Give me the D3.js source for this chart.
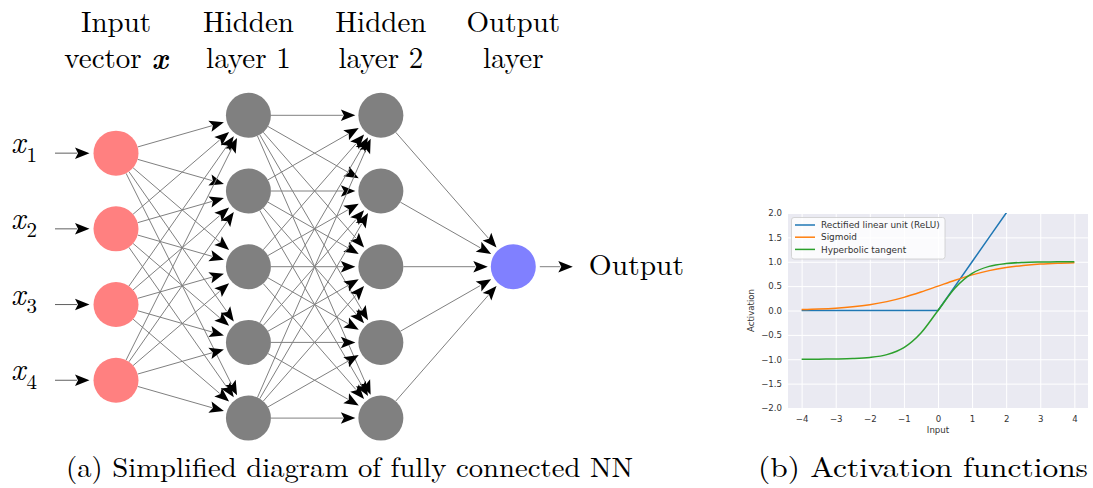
<!DOCTYPE html>
<html>
<head>
<meta charset="utf-8">
<script src="https://cdn.jsdelivr.net/npm/d3@7"></script>
<style>
  html, body { margin: 0; padding: 0; background: #fff; }
  svg { display: block; }
</style>
</head>
<body>
<svg id="fig" width="1093" height="488"></svg>
<script>
// ---- network diagram data ----
const layerNames = ["input", "hidden1", "hidden2", "output"];
const layerSizes = [4, 5, 5, 1];
const layerTitles = [["Input", "vector"], ["Hidden", "layer 1"], ["Hidden", "layer 2"], ["Output", "layer"]];
const layerColors = ["#ff8080", "#808080", "#808080", "#8080ff"];
const inputLabels = ["1", "2", "3", "4"];
const outputLabel = "Output";
const captionA = "(a) Simplified diagram of fully connected NN";
const captionB = "(b) Activation functions";

// ---- activation curves data ----
const inputs     = [-4, -3.5, -3, -2.5, -2, -1.5, -1, -0.5, 0, 0.5, 1, 1.5, 2, 2.5, 3, 3.5, 4];
const reluVals   = [0, 0, 0, 0, 0, 0, 0, 0, 0, 0.5, 1, 1.5, 2, 2.5, 3, 3.5, 4];
const sigmoidVals= [0.018, 0.029, 0.047, 0.076, 0.119, 0.182, 0.269, 0.378, 0.5, 0.622, 0.731, 0.818, 0.881, 0.924, 0.953, 0.971, 0.982];
const tanhVals   = [-0.999, -0.998, -0.995, -0.987, -0.964, -0.905, -0.762, -0.462, 0, 0.462, 0.762, 0.905, 0.964, 0.987, 0.995, 0.998, 0.999];
const seriesNames = ["Rectified linear unit (ReLU)", "Sigmoid", "Hyperbolic tangent"];
const seriesColors = ["#1f77b4", "#ff7f0e", "#2ca02c"];
const xTicks = [-4, -3, -2, -1, 0, 1, 2, 3, 4];
const yTicks = [-2, -1.5, -1, -0.5, 0, 0.5, 1, 1.5, 2];

const svg = d3.select("#fig");
const SERIF = '"Latin Modern Roman", "Liberation Serif", "DejaVu Serif", serif';
const SANS = '"DejaVu Sans", sans-serif';

// ================= (a) network diagram =================
const net = svg.append("g");
const xLayer = d3.scalePoint().domain(layerNames).range([116, 513.3]);
const yNode = d3.scaleLinear().domain([-2, 2]).range([115.3, 418.1]);
const R = 22.5;

const nodes = layerNames.map((name, li) =>
  d3.range(layerSizes[li]).map(i => ({
    layer: li,
    x: xLayer(name),
    y: yNode(i - (layerSizes[li] - 1) / 2)
  }))
);

// arrow helper: gray shaft, black triangular head
const HEAD_L = 14.5, HEAD_W = 11.5;
function arrow(g, x1, y1, x2, y2, shaftColor) {
  const dx = x2 - x1, dy = y2 - y1, len = Math.hypot(dx, dy);
  const ux = dx / len, uy = dy / len;
  const bx = x2 - ux * HEAD_L, by = y2 - uy * HEAD_L;
  g.append("line")
    .attr("x1", x1).attr("y1", y1).attr("x2", bx + ux * 2).attr("y2", by + uy * 2)
    .attr("stroke", shaftColor).attr("stroke-width", 1);
  g.append("path")
    .attr("d", `M${x2},${y2}L${bx - uy * HEAD_W / 2},${by + ux * HEAD_W / 2}L${bx + ux * 3},${by + uy * 3}L${bx + uy * HEAD_W / 2},${by - ux * HEAD_W / 2}Z`)
    .attr("fill", "#000");
}

const edgeG = net.append("g");
for (let li = 0; li < nodes.length - 1; li++) {
  nodes[li].forEach(s => {
    nodes[li + 1].forEach(t => {
      const dx = t.x - s.x, dy = t.y - s.y, len = Math.hypot(dx, dy);
      const ux = dx / len, uy = dy / len;
      arrow(edgeG, s.x + ux * R, s.y + uy * R, t.x - ux * (R + 3), t.y - uy * (R + 3), "#808080");
    });
  });
}

// input arrows and output arrow
nodes[0].forEach(n => arrow(edgeG, 55, n.y, n.x - R - 4, n.y, "#606060"));
const outNode = nodes[3][0];
arrow(edgeG, outNode.x + R + 4, outNode.y, outNode.x + R + 37, outNode.y, "#808080");

// node circles
net.append("g").selectAll("g").data(nodes).join("g")
  .selectAll("circle").data(d => d).join("circle")
  .attr("cx", d => d.x).attr("cy", d => d.y).attr("r", R)
  .attr("fill", d => layerColors[d.layer]);

// input labels x_i
const xl = net.append("g").selectAll("text").data(nodes[0]).join("text")
  .style("font-family", SERIF)
  .attr("x", 11).attr("y", d => d.y)
  .attr("fill", "#000");
xl.append("tspan").style("font-style", "italic").style("font-size", "31px").text("x");
xl.append("tspan").style("font-size", "21px").attr("dx", 1).attr("dy", 8.4).text((d, i) => inputLabels[i]);

// output label
net.append("text").style("font-family", SERIF).style("font-size", "29.5px")
  .attr("x", outNode.x + R + 53).attr("y", outNode.y + 8.5)
  .attr("fill", "#000").text(outputLabel);

// layer titles, two lines each
layerNames.forEach((name, li) => {
  const cx = xLayer(name);
  const t = net.append("text").style("font-family", SERIF).style("font-size", "29px")
    .attr("text-anchor", "middle");
  t.append("tspan").attr("x", cx).attr("y", 31.5).text(layerTitles[li][0]);
  const l2 = t.append("tspan").attr("x", cx).attr("y", 68).text(layerTitles[li][1]);
  if (li === 0) {
    t.append("tspan").text(" ");
    t.append("tspan").style("font-weight", "bold").style("font-style", "italic").text("x");
  }
});

// captions
svg.append("text").style("font-family", SERIF).style("font-size", "28px")
  .attr("x", 66).attr("y", 477).text(captionA)
  .attr("textLength", 567).attr("lengthAdjust", "spacingAndGlyphs");
svg.append("text").style("font-family", SERIF).style("font-size", "28px")
  .attr("x", 758).attr("y", 477).text(captionB)
  .attr("textLength", 330).attr("lengthAdjust", "spacingAndGlyphs");

// ================= (b) activation functions =================
const plotL = 788, plotR = 1088, plotT = 213, plotB = 408;
const x = d3.scaleLinear().domain([-4.4, 4.4]).range([plotL, plotR]);
const y = d3.scaleLinear().domain([-2, 2]).range([plotB, plotT]);
const plot = svg.append("g");

plot.append("rect")
  .attr("x", plotL).attr("y", plotT).attr("width", plotR - plotL).attr("height", plotB - plotT)
  .attr("fill", "#eaeaf2");

const fmt = v => (v < 0 ? "\u2212" : "") + d3.format(".1f")(Math.abs(v));

// grid via axes with full-length ticks
const gx = plot.append("g").attr("transform", `translate(0,${plotB})`)
  .call(d3.axisBottom(x).tickValues(xTicks).tickSize(plotB - plotT).tickPadding(0)
    .tickFormat(v => (v < 0 ? "\u2212" : "") + Math.abs(v)));
gx.select(".domain").remove();
gx.selectAll(".tick line").attr("stroke", "#fff").attr("stroke-width", 1).attr("y2", -(plotB - plotT));
gx.selectAll(".tick text").style("font-family", SANS).style("font-size", "8.6px")
  .attr("y", 13.8).attr("dy", 0).attr("fill", "#333");

const gy = plot.append("g").attr("transform", `translate(${plotL},0)`)
  .call(d3.axisLeft(y).tickValues(yTicks).tickSize(0).tickPadding(6).tickFormat(fmt));
gy.select(".domain").remove();
gy.selectAll(".tick line").attr("stroke", "#fff").attr("stroke-width", 1).attr("x2", plotR - plotL);
gy.selectAll(".tick text").style("font-family", SANS).style("font-size", "8.6px").attr("fill", "#333");

plot.append("text").style("font-family", SANS).style("font-size", "8.6px")
  .attr("x", (plotL + plotR) / 2).attr("y", 433)
  .attr("text-anchor", "middle").attr("fill", "#333").text("Input");
plot.append("text").style("font-family", SANS).style("font-size", "8.6px")
  .attr("transform", `translate(754,${(plotT + plotB) / 2}) rotate(-90)`)
  .attr("text-anchor", "middle").attr("fill", "#333").text("Activation");

svg.append("defs").append("clipPath").attr("id", "plotclip")
  .append("rect").attr("x", plotL).attr("y", plotT).attr("width", plotR - plotL).attr("height", plotB - plotT);

const series = [reluVals, sigmoidVals, tanhVals];
const curves = [d3.curveLinear, d3.curveMonotoneX, d3.curveMonotoneX];
const lineG = plot.append("g").attr("clip-path", "url(#plotclip)");
series.forEach((vals, si) => {
  const line = d3.line().x((d, i) => x(inputs[i])).y(d => y(d)).curve(curves[si]);
  lineG.append("path").datum(vals).attr("d", line)
    .attr("fill", "none").attr("stroke", seriesColors[si]).attr("stroke-width", 1.5);
});

// legend
const lg = plot.append("g");
lg.append("rect").attr("x", 791.5).attr("y", 217.5).attr("width", 153.5).attr("height", 41.5)
  .attr("rx", 2.5).attr("fill", "#ffffff").attr("fill-opacity", 0.8).attr("stroke", "#cccccc").attr("stroke-width", 0.8);
seriesNames.forEach((name, i) => {
  const ly = 225 + i * 12.2;
  lg.append("line").attr("x1", 795).attr("x2", 815).attr("y1", ly).attr("y2", ly)
    .attr("stroke", seriesColors[i]).attr("stroke-width", 1.5);
  lg.append("text").style("font-family", SANS).style("font-size", "8.9px")
    .attr("x", 821).attr("y", ly + 3.2).attr("fill", "#333").text(name);
});
</script>
</body>
</html>
